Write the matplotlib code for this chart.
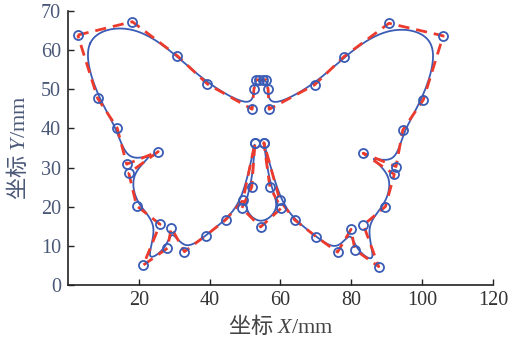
import numpy as np
import matplotlib
matplotlib.use('Agg')
import matplotlib.pyplot as plt

plt.rcParams['font.family'] = ['Liberation Serif', 'Noto Sans CJK SC']
plt.rcParams['mathtext.fontset'] = 'custom'
plt.rcParams['mathtext.it'] = 'Liberation Serif:italic'
plt.rcParams['mathtext.rm'] = 'Noto Sans CJK SC'
plt.rcParams['mathtext.sf'] = 'Liberation Serif'

# control polygon of the butterfly (closed)
ctrl_x = [2.8, 18.2, 30.9, 39.4, 52.0, 52.5, 53.0, 54.0, 55.0, 56.0, 56.5, 56.8,
          69.6, 77.9, 90.6, 105.9, 100.3, 94.5, 92.6, 83.3, 92.1, 89.6, 83.4,
          87.7, 81.0, 79.9, 76.1, 70.1, 64.0, 59.8, 55.3, 55.3, 57.0, 60.2,
          54.4, 49.1, 51.9, 52.8, 52.8, 49.4, 44.5, 38.9, 32.9, 29.2, 28.1,
          21.3, 26.0, 19.4, 17.2, 25.5, 16.6, 13.9, 8.4]
ctrl_y = [63.8, 67.2, 58.5, 51.3, 44.9, 50.0, 52.4, 52.4, 52.4, 52.4, 50.0, 44.9,
          51.1, 58.3, 66.8, 63.6, 47.3, 39.6, 30.3, 33.7, 28.3, 20.1, 15.4,
          4.8, 9.1, 14.3, 8.5, 12.4, 16.7, 21.7, 36.4, 36.4, 25.1, 19.7,
          14.9, 19.7, 25.1, 36.4, 36.4, 21.7, 16.7, 12.7, 8.6, 14.7, 9.5,
          5.2, 15.6, 20.3, 28.6, 34.1, 30.9, 40.2, 47.7]

xticks = [20, 40, 60, 80, 100, 120]
yticks = [0, 10, 20, 30, 40, 50, 60, 70]

px = np.array(ctrl_x)
py = np.array(ctrl_y)
n = len(px)

# closed uniform cubic B-spline on the control polygon
t = np.linspace(0, 1, 30, endpoint=False)
b0 = (1 - t) ** 3 / 6
b1 = (3 * t ** 3 - 6 * t ** 2 + 4) / 6
b2 = (-3 * t ** 3 + 3 * t ** 2 + 3 * t + 1) / 6
b3 = t ** 3 / 6
cx, cy = [], []
for i in range(n):
    idx = [(i - 1) % n, i, (i + 1) % n, (i + 2) % n]
    cx.extend(b0 * px[idx[0]] + b1 * px[idx[1]] + b2 * px[idx[2]] + b3 * px[idx[3]])
    cy.extend(b0 * py[idx[0]] + b1 * py[idx[1]] + b2 * py[idx[2]] + b3 * py[idx[3]])
cx.append(cx[0])
cy.append(cy[0])

fig = plt.figure(figsize=(5.1, 3.46), dpi=100)
ax = fig.add_axes([0.133, 0.175, 0.834, 0.794])

ax.plot(cx, cy, color='#3a5cb5', lw=1.3, zorder=2)
ax.plot(np.append(px, px[0]), np.append(py, py[0]), color='#ec3a2c',
        lw=2.0, ls=(0, (4, 2.5)), zorder=3)
ax.plot(px, py, ls='none', marker='o', ms=6.5, mfc='none', mec='#3a5cb5',
        mew=1.3, zorder=4)

ax.set_xlim(0, 120)
ax.set_ylim(0, 70)
ax.set_xticks(xticks)
ax.set_yticks(yticks)
ax.spines['top'].set_visible(False)
ax.spines['right'].set_visible(False)
for s in ['left', 'bottom']:
    ax.spines[s].set_linewidth(1.2)
    ax.spines[s].set_color('#222222')
ax.tick_params(direction='in', length=4, width=1.0, labelsize=14.5)
ax.tick_params(axis='x', pad=4, colors='#222222', labelcolor='#333333')
ax.tick_params(axis='y', pad=5, colors='#222222', labelcolor='#4a5878')

ax.set_xlabel(r'$\mathrm{坐标}\ X\mathsf{/mm}$', fontsize=16, color='#444444', labelpad=3)
ax.set_ylabel(r'$\mathrm{坐标}\ Y\mathsf{/mm}$', fontsize=16, color='#4a5878', labelpad=8)

fig.savefig('out.png', dpi=100)
